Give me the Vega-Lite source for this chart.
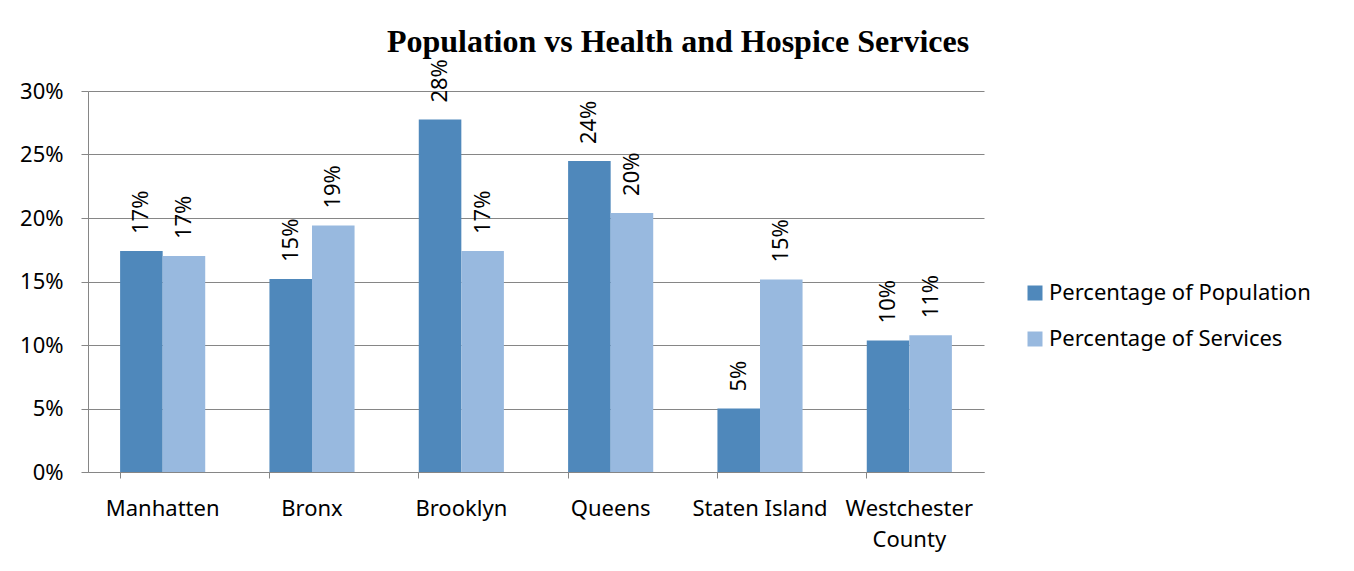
{
  "$schema": "https://vega.github.io/schema/vega-lite/v6.json",
  "width": 896,
  "height": 381,
  "autosize": {"type": "none"},
  "padding": {"left": 88, "top": 91, "right": 370, "bottom": 99},
  "background": "white",
  "title": {
    "text": "Population vs Health and Hospice Services",
    "font": "Liberation Serif",
    "fontSize": 32,
    "fontWeight": "bold",
    "color": "black",
    "anchor": "middle",
    "dx": 142,
    "offset": 0
  },
  "data": {
    "values": [
      {"area": "Manhatten", "series": "Percentage of Population", "value": 0.174},
      {"area": "Manhatten", "series": "Percentage of Services", "value": 0.170},
      {"area": "Bronx", "series": "Percentage of Population", "value": 0.152},
      {"area": "Bronx", "series": "Percentage of Services", "value": 0.194},
      {"area": "Brooklyn", "series": "Percentage of Population", "value": 0.2775},
      {"area": "Brooklyn", "series": "Percentage of Services", "value": 0.174},
      {"area": "Queens", "series": "Percentage of Population", "value": 0.2448},
      {"area": "Queens", "series": "Percentage of Services", "value": 0.204},
      {"area": "Staten Island", "series": "Percentage of Population", "value": 0.050},
      {"area": "Staten Island", "series": "Percentage of Services", "value": 0.1515},
      {"area": "Westchester County", "series": "Percentage of Population", "value": 0.1036},
      {"area": "Westchester County", "series": "Percentage of Services", "value": 0.1076}
    ]
  },
  "encoding": {
    "x": {
      "field": "area",
      "type": "nominal",
      "sort": null,
      "scale": {"paddingInner": 0.43, "paddingOuter": 0.215},
      "axis": {
        "title": null,
        "labelAngle": 0,
        "labelFont": "Noto Sans",
        "labelFontSize": 22,
        "labelColor": "black",
        "labelPadding": 20,
        "labelLineHeight": 31,
        "labelLimit": 300,
        "labelExpr": "datum.label == 'Westchester County' ? ['Westchester', 'County'] : datum.label",
        "bandPosition": 0,
        "tickSize": 6,
        "tickColor": "#868686",
        "domainColor": "#868686",
        "grid": false
      }
    },
    "xOffset": {"field": "series", "type": "nominal"},
    "y": {
      "field": "value",
      "type": "quantitative",
      "scale": {"domain": [0, 0.3], "nice": false},
      "axis": {
        "title": null,
        "format": ".0%",
        "values": [0, 0.05, 0.1, 0.15, 0.2, 0.25, 0.3],
        "labelFont": "Noto Sans",
        "labelFontSize": 22,
        "labelColor": "black",
        "labelPadding": 18,
        "tickSize": 7,
        "tickColor": "#868686",
        "domainColor": "#868686",
        "gridColor": "#868686",
        "gridOpacity": 1
      }
    }
  },
  "layer": [
    {
      "mark": {"type": "bar"},
      "encoding": {
        "color": {
          "field": "series",
          "type": "nominal",
          "scale": {"range": ["#4F88BB", "#98B9DF"]},
          "legend": {
            "title": null,
            "orient": "none",
            "legendX": 936,
            "legendY": 191,
            "symbolType": "square",
            "symbolSize": 225,
            "symbolStrokeWidth": 0,
            "labelFont": "Noto Sans",
            "labelFontSize": 22,
            "labelLimit": 400,
            "labelColor": "black",
            "labelOffset": 3,
            "rowPadding": 24
          }
        }
      }
    },
    {
      "mark": {
        "type": "text",
        "angle": 270,
        "align": "left",
        "baseline": "middle",
        "dx": 17,
        "font": "Noto Sans",
        "fontSize": 22,
        "color": "black"
      },
      "encoding": {
        "text": {"field": "value", "type": "quantitative", "format": ".0%"}
      }
    }
  ],
  "config": {"view": {"stroke": null}}
}
